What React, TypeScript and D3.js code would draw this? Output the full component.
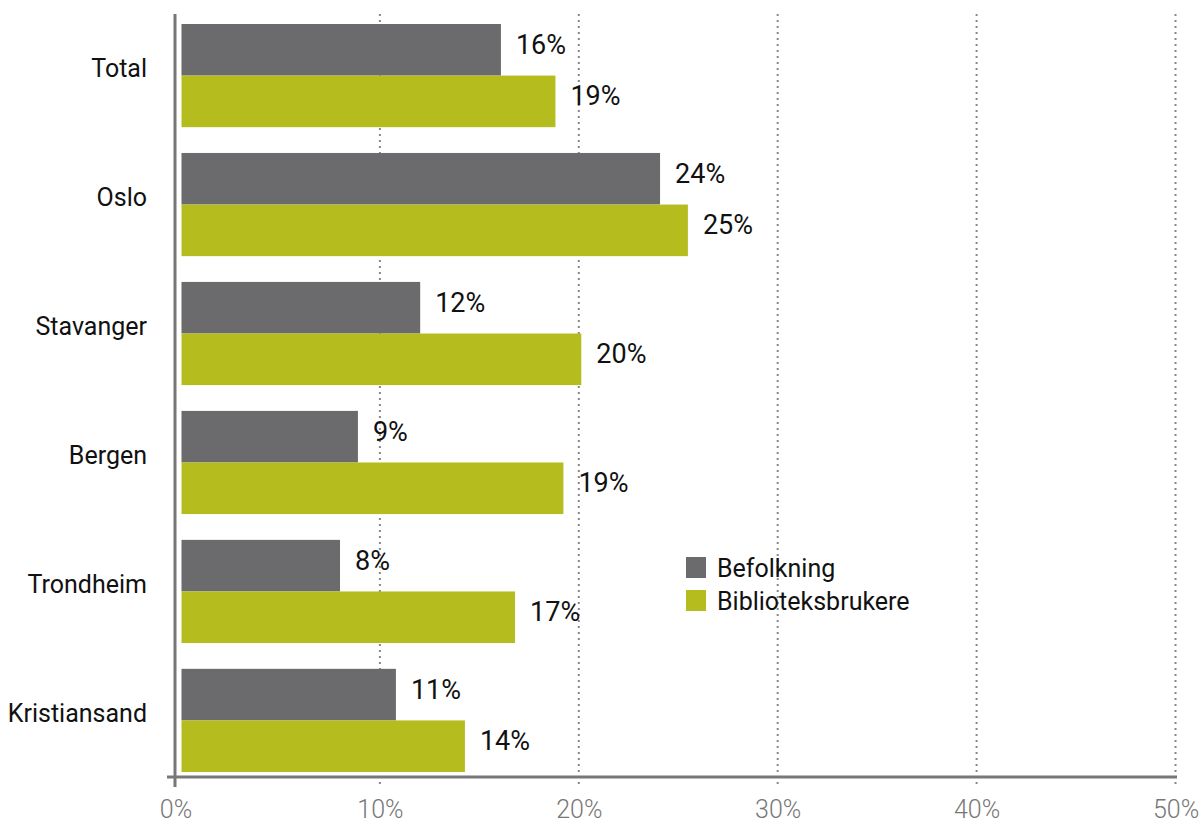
import { useMemo } from "react";
import * as d3 from "d3";

const WIDTH = 1203;
const HEIGHT = 823;

const categories = ["Total", "Oslo", "Stavanger", "Bergen", "Trondheim", "Kristiansand"];
const seriesNames = ["Befolkning", "Biblioteksbrukere"];
const befolkning = [16.06, 24.06, 12.0, 8.87, 7.97, 10.78];
const bibliotek = [18.8, 25.46, 20.1, 19.2, 16.77, 14.25];
const labelsBefolkning = ["16%", "24%", "12%", "9%", "8%", "11%"];
const labelsBibliotek = ["19%", "25%", "20%", "19%", "17%", "14%"];
const xTicks = [0, 10, 20, 30, 40, 50];

const COLORS = ["#6b6b6d", "#b5bd1e"];
const AXIS_COLOR = "#777777";
const FONT = "Roboto, 'DejaVu Sans', sans-serif";

export default function App() {
  const xScale = useMemo(() => d3.scaleLinear().domain([0, 50]).range([181.5, 1176]), []);
  const yScale = useMemo(
    () => d3.scaleBand<string>().domain(categories).range([24, 772]).paddingInner(0.2).paddingOuter(0),
    []
  );
  const sub = useMemo(
    () => d3.scaleBand<string>().domain(seriesNames).range([0, yScale.bandwidth()]),
    [yScale]
  );

  const series = [
    { name: seriesNames[0], values: befolkning, labels: labelsBefolkning, color: COLORS[0] },
    { name: seriesNames[1], values: bibliotek, labels: labelsBibliotek, color: COLORS[1] },
  ];

  const axisY = 777;
  const yAxisX = 175;

  return (
    <svg width={WIDTH} height={HEIGHT} style={{ position: "absolute", left: 0, top: 0 }}>
      <rect width={WIDTH} height={HEIGHT} fill="#ffffff" />

      {/* dotted gridlines */}
      {xTicks.slice(1).map((t) => (
        <line
          key={t}
          x1={xScale(t) - 0.5}
          x2={xScale(t) - 0.5}
          y1={14}
          y2={787}
          stroke="#888"
          strokeWidth={2}
          strokeDasharray="2,4"
        />
      ))}

      {/* bars */}
      {series.map((s) =>
        categories.map((c, i) => {
          const y = (yScale(c) ?? 0) + (sub(s.name) ?? 0);
          return (
            <g key={s.name + c}>
              <rect
                x={xScale(0)}
                y={y}
                width={xScale(s.values[i]) - xScale(0)}
                height={sub.bandwidth()}
                fill={s.color}
              />
              <text
                x={xScale(s.values[i]) + 15}
                y={y + sub.bandwidth() / 2 - 5}
                dominantBaseline="central"
                fontFamily={FONT}
                fontSize={27}
                fill="#111"
              >
                {s.labels[i]}
              </text>
            </g>
          );
        })
      )}

      {/* axes */}
      <line x1={yAxisX} x2={yAxisX} y1={14} y2={787} stroke={AXIS_COLOR} strokeWidth={3} />
      <line x1={167} x2={1177} y1={axisY} y2={axisY} stroke={AXIS_COLOR} strokeWidth={3} />

      {/* x tick labels */}
      {xTicks.map((t) => (
        <text
          key={t}
          x={t === 0 ? yAxisX + 1 : xScale(t)}
          y={818}
          textAnchor="middle"
          fontFamily={FONT}
          fontWeight={300}
          fontSize={25}
          fill={AXIS_COLOR}
        >
          {t}%
        </text>
      ))}

      {/* category labels */}
      {categories.map((c) => (
        <text
          key={c}
          x={147}
          y={(yScale(c) ?? 0) + yScale.bandwidth() / 2 - 7}
          textAnchor="end"
          dominantBaseline="central"
          fontFamily={FONT}
          fontSize={25}
          fill="#111"
        >
          {c}
        </text>
      ))}

      {/* legend */}
      {series.map((s, i) => (
        <g key={s.name} transform={`translate(686, ${557 + i * 33})`}>
          <rect width={20} height={21} fill={s.color} />
          <text
            x={31}
            y={11}
            dominantBaseline="central"
            fontFamily={FONT}
            fontSize={25}
            fill="#111"
          >
            {s.name}
          </text>
        </g>
      ))}
    </svg>
  );
}
